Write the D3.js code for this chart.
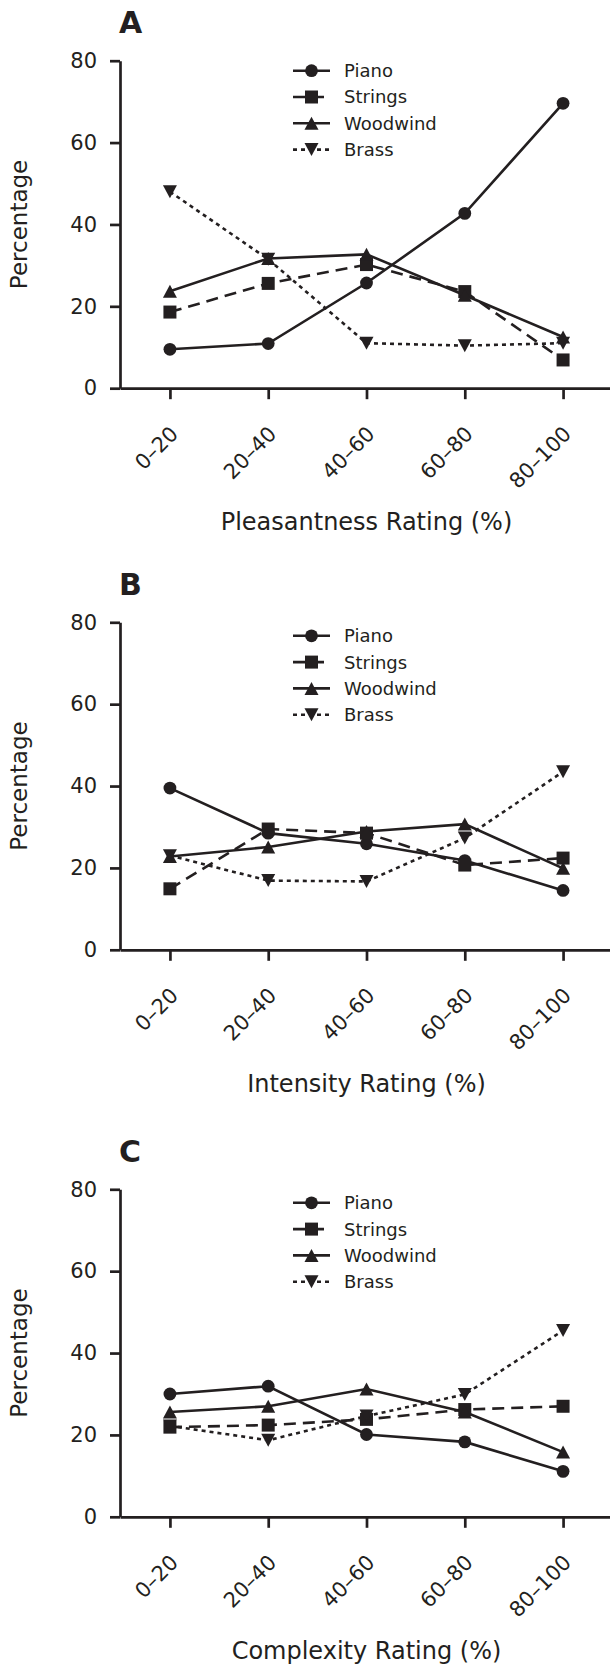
<!DOCTYPE html>
<html>
<head>
<meta charset="utf-8">
<script src="https://cdn.jsdelivr.net/npm/d3@7"></script>
<style>
  html, body { margin: 0; padding: 0; background: #ffffff; }
  svg { display: block; font-family: "DejaVu Sans", Verdana, sans-serif; }
</style>
</head>
<body>
<script>
// ---------- data ----------
const categories = ["0–20", "20–40", "40–60", "60–80", "80–100"];
const seriesNames = ["Piano", "Strings", "Woodwind", "Brass"];
const yTickValues = [0, 20, 40, 60, 80];
const panelLetters = ["A", "B", "C"];
const xTitles = ["Pleasantness Rating (%)", "Intensity Rating (%)", "Complexity Rating (%)"];
const yTitle = "Percentage";

// Panel A – Pleasantness
const pleasPiano    = [9.5, 10.9, 25.7, 42.7, 69.6];
const pleasStrings  = [18.6, 25.6, 30.2, 23.6, 6.9];
const pleasWoodwind = [23.7, 31.7, 32.7, 22.7, 12.5];
const pleasBrass    = [48.0, 31.5, 11.0, 10.4, 11.0];

// Panel B – Intensity
const intPiano    = [39.5, 28.5, 25.9, 21.8, 14.5];
const intStrings  = [14.9, 29.5, 28.5, 20.7, 22.4];
const intWoodwind = [22.8, 25.1, 28.9, 30.7, 19.9];
const intBrass    = [23.0, 16.9, 16.7, 27.3, 43.5];

// Panel C – Complexity
const compPiano    = [30.0, 31.9, 20.1, 18.3, 11.1];
const compStrings  = [21.9, 22.4, 23.8, 26.2, 27.0];
const compWoodwind = [25.6, 27.0, 31.2, 25.6, 15.8];
const compBrass    = [22.2, 18.7, 24.6, 29.9, 45.5];

const panelData = [
  [pleasPiano, pleasStrings, pleasWoodwind, pleasBrass],
  [intPiano, intStrings, intWoodwind, intBrass],
  [compPiano, compStrings, compWoodwind, compBrass]
];

// ---------- layout / style ----------
const W = 610, H = 1664;
const ink = "#231f20";
const panelTops = [60.7, 622.3, 1189.3];
const legendOffsets = [10, 13.5, 13.5];
const plotH = 327.5;
const dashes = [null, "12,7", null, "4,4"];
const markerPaths = [
  d3.symbol(d3.symbolCircle, Math.PI * 6.4 * 6.4)(),
  d3.symbol(d3.symbolSquare, 13 * 13)(),
  "M0,-6.5L7,6.5L-7,6.5Z",
  "M0,6.5L7,-6.5L-7,-6.5Z"
];

const svg = d3.select("body").append("svg").attr("width", W).attr("height", H);

panelData.forEach((series, pi) => {
  const top = panelTops[pi];
  const y = d3.scaleLinear().domain([0, 80]).range([top + plotH, top]);
  const x = d3.scalePoint().domain(categories).range([120, 613]).padding(0.508);
  const g = svg.append("g");

  // panel letter
  g.append("text")
    .attr("x", 119).attr("y", top - 27.5)
    .attr("font-size", 30).attr("font-weight", "bold")
    .attr("fill", ink).text(panelLetters[pi]);

  // y axis
  const ya = g.append("g").attr("transform", "translate(120,0)")
    .call(d3.axisLeft(y).tickValues(yTickValues).tickSize(10).tickSizeOuter(0).tickPadding(13));
  ya.selectAll("path, line").attr("stroke", ink).attr("stroke-width", 2.7);
  ya.selectAll("text").attr("font-size", 21).attr("fill", ink)
    .attr("font-family", "DejaVu Sans, sans-serif");

  // x axis
  const xa = g.append("g").attr("transform", `translate(0,${y(0)})`)
    .call(d3.axisBottom(x).tickSize(11).tickSizeOuter(0));
  xa.selectAll("path, line").attr("stroke", ink).attr("stroke-width", 2.7);
  xa.selectAll("text")
    .attr("x", 0).attr("y", 0).attr("dy", 0)
    .attr("text-anchor", "end")
    .attr("transform", "translate(9,47) rotate(-45)")
    .attr("font-size", 21).attr("fill", ink)
    .attr("font-family", "DejaVu Sans, sans-serif");

  // y title
  g.append("text")
    .attr("transform", `translate(27,${(y(0) + y(80)) / 2}) rotate(-90)`)
    .attr("text-anchor", "middle")
    .attr("font-size", 23).attr("fill", ink)
    .text(yTitle);

  // x title
  g.append("text")
    .attr("x", x(categories[2])).attr("y", y(0) + 142)
    .attr("text-anchor", "middle")
    .attr("font-size", 24).attr("fill", ink)
    .text(xTitles[pi]);

  // lines
  const line = d3.line().x((d, i) => x(categories[i])).y(d => y(d));
  series.forEach((vals, si) => {
    g.append("path")
      .attr("d", line(vals))
      .attr("fill", "none").attr("stroke", ink).attr("stroke-width", 2.6)
      .attr("stroke-dasharray", dashes[si]);
  });
  // markers
  series.forEach((vals, si) => {
    g.selectAll(null).data(vals).enter().append("path")
      .attr("d", markerPaths[si])
      .attr("transform", (d, i) => `translate(${x(categories[i])},${y(d)})`)
      .attr("fill", ink);
  });

  // legend
  const lg = g.append("g").attr("transform", `translate(0,${top + legendOffsets[pi]})`);
  seriesNames.forEach((name, si) => {
    const row = lg.append("g").attr("transform", `translate(0,${si * 26.3})`);
    row.append("line").attr("x1", 293).attr("x2", 330).attr("y1", 0).attr("y2", 0)
      .attr("stroke", ink).attr("stroke-width", 2.6).attr("stroke-dasharray", dashes[si]);
    row.append("path").attr("d", markerPaths[si]).attr("transform", "translate(311.5,0)").attr("fill", ink);
    row.append("text").attr("x", 344).attr("y", 0).attr("dy", "0.36em")
      .attr("font-size", 18).attr("fill", ink).text(name);
  });
});
</script>
</body>
</html>
